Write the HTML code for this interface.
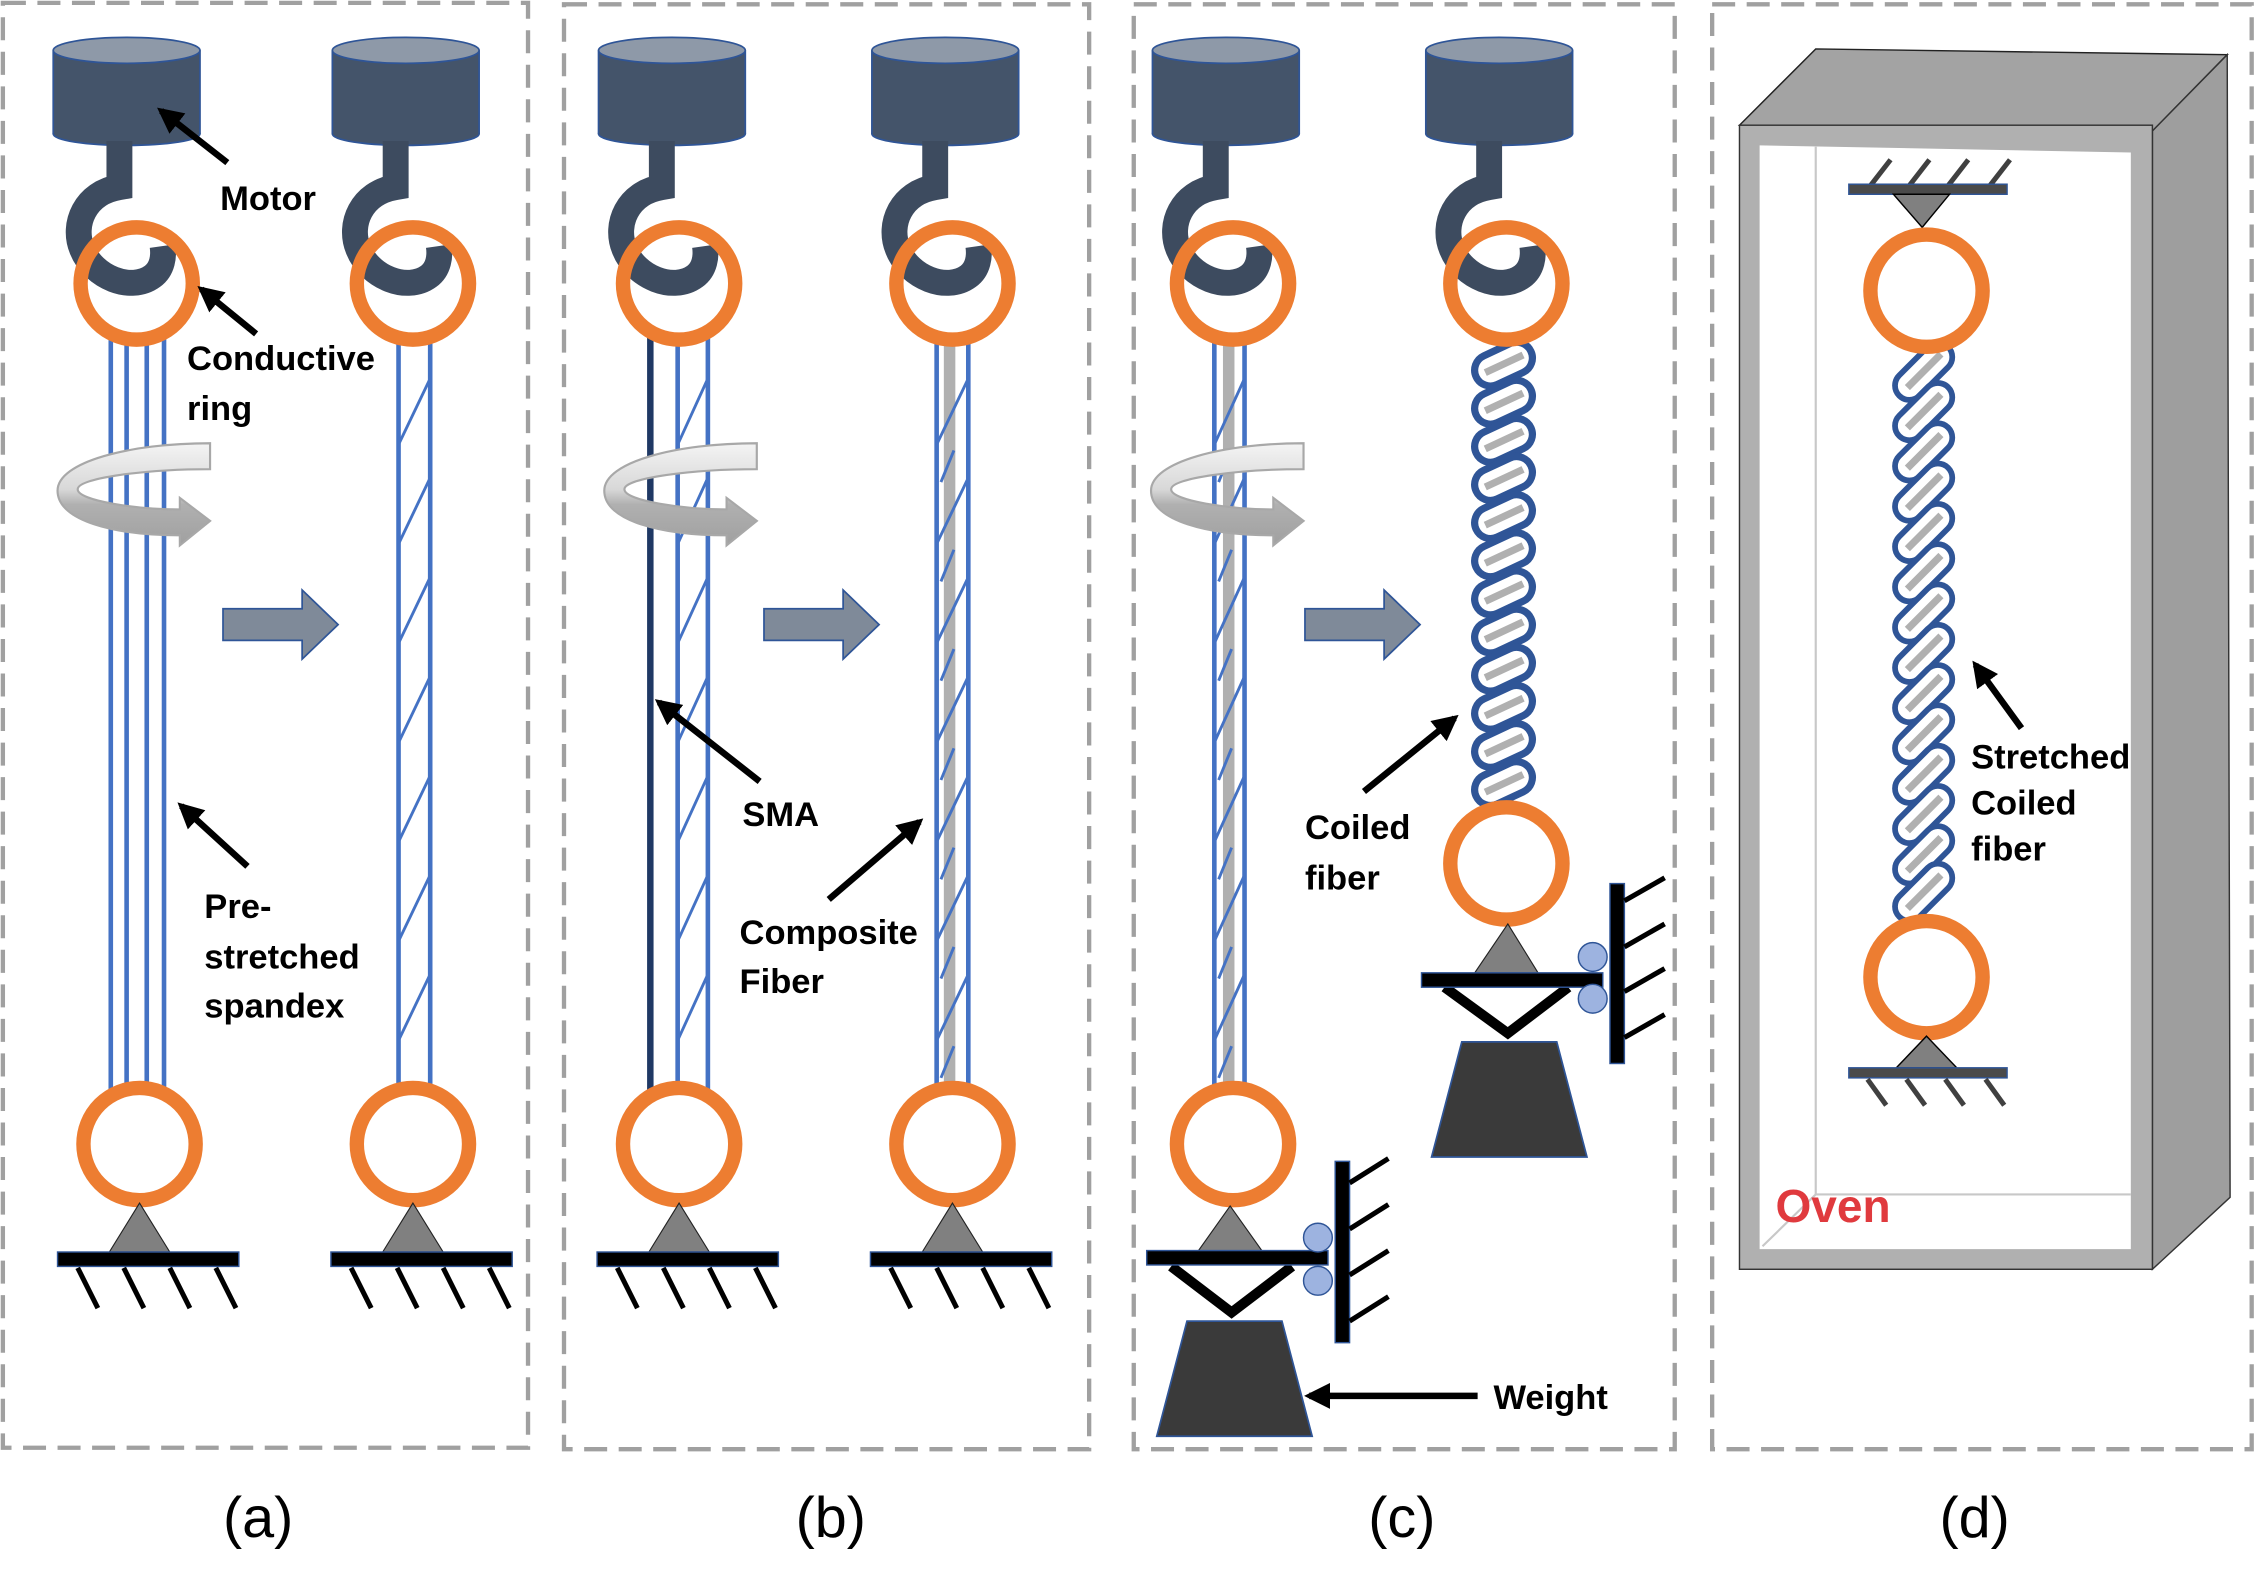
<!DOCTYPE html>
<html><head><meta charset="utf-8"><style>
html,body{margin:0;padding:0;background:#fff;}
svg{display:block;}
text{font-family:"Liberation Sans",sans-serif;}
.lb{font-weight:bold;font-size:24px;fill:#000;}
.cap{font-size:40px;fill:#000;}
</style></head><body>
<svg width="2256" height="1583" viewBox="0 0 1568 1100" preserveAspectRatio="none" xmlns="http://www.w3.org/2000/svg">
<defs>
<marker id="ah" markerWidth="4" markerHeight="4" refX="3.2" refY="2" orient="auto" markerUnits="strokeWidth"><path d="M0,0 L4,2 L0,4 Z" fill="#000"/></marker>
<linearGradient id="rg" x1="0" y1="0" x2="0" y2="1"><stop offset="0" stop-color="#f4f4f4"/><stop offset="0.45" stop-color="#d8d8d8"/><stop offset="0.6" stop-color="#b0b0b0"/><stop offset="1" stop-color="#a0a0a0"/></linearGradient>
<g id="motor">
 <ellipse cx="0" cy="93" rx="51" ry="8" fill="#44546a" stroke="#2f5597" stroke-width="1.2"/>
 <rect x="-51" y="35" width="102" height="58" fill="#44546a"/>
 <line x1="-51" y1="35" x2="-51" y2="93" stroke="#2f5597" stroke-width="1.2"/>
 <line x1="51" y1="35" x2="51" y2="93" stroke="#2f5597" stroke-width="1.2"/>
 <ellipse cx="0" cy="35" rx="51" ry="9" fill="#8e99a8" stroke="#2f5597" stroke-width="1.2"/>
</g>
<g id="hook">
 <path d="M-12,98 L-12,130 C-36,134 -45,156 -38,173 C-30,193 -4,203 11,192 C18,187 19,178 18,171" fill="none" stroke="#3d4b5f" stroke-width="18"/>
</g>
<g id="ground">
 <polygon points="0,-2 -21,32 21,32" fill="#808080" stroke="#222" stroke-width="0.8"/>
 <rect x="-57" y="32" width="126" height="10" fill="#000" stroke="#2f5597" stroke-width="1"/>
 <g stroke="#000" stroke-width="3.5">
  <line x1="-43" y1="43" x2="-29" y2="71"/><line x1="-11" y1="43" x2="3" y2="71"/><line x1="21" y1="43" x2="35" y2="71"/><line x1="53" y1="43" x2="67" y2="71"/>
 </g>
</g>
<g id="rot">
 <path d="M106,4 L106,22 C62,22 14,28 14,36 C14,44 55,50 85,50 L85,42 L106,58 L85,75 L85,68 C40,68 0,58 0,37 C0,17 50,4 106,4 Z" fill="url(#rg)" stroke="#a8a8a8" stroke-width="1.5"/>
</g>
<g id="bigarrow">
 <polygon points="0,-11 55,-11 55,-24 80,0 55,24 55,11 0,11" fill="#7f8a99" stroke="#2f5597" stroke-width="1.2"/>
</g>
<g id="capc">
 <rect x="-21" y="-11" width="42" height="22" rx="11" fill="#fff" stroke="#2f5597" stroke-width="5"/>
 <line x1="-14" y1="0" x2="15" y2="0" stroke="#b0b0b0" stroke-width="5"/>
</g>
<g id="capd">
 <rect x="-24" y="-10" width="48" height="20" rx="10" fill="#fff" stroke="#2f5597" stroke-width="4"/>
 <line x1="-16" y1="0" x2="17" y2="0" stroke="#b0b0b0" stroke-width="5"/>
</g>
<g id="ring"><circle r="39" fill="none" stroke="#ed7d31" stroke-width="10"/></g>
<g id="wt">
 <polygon points="-33,-30 33,-30 54,50 -54,50" fill="#3a3a3a" stroke="#2f5597" stroke-width="1.2"/>
</g>
</defs>

<g fill="none" stroke="#a0a0a0" stroke-width="3" stroke-dasharray="16,8">
 <rect x="2" y="2" width="365" height="1004"/>
 <rect x="392" y="3" width="365" height="1004"/>
 <rect x="788" y="3" width="376" height="1004"/>
 <rect x="1190" y="3" width="375" height="1004"/>
</g>

<use href="#motor" x="88" y="0"/><use href="#motor" x="282" y="0"/>
<use href="#motor" x="467" y="0"/><use href="#motor" x="657" y="0"/>
<use href="#motor" x="852" y="0"/><use href="#motor" x="1042" y="0"/>
<use href="#hook" x="95"/><use href="#hook" x="287"/><use href="#hook" x="472"/>
<use href="#hook" x="662"/><use href="#hook" x="857"/><use href="#hook" x="1047"/>

<g stroke="#4472c4" stroke-width="3.2">
 <line x1="77" y1="232" x2="77" y2="758"/><line x1="88" y1="232" x2="88" y2="758"/>
 <line x1="102" y1="232" x2="102" y2="758"/><line x1="114" y1="232" x2="114" y2="758"/>
</g>
<g stroke="#4472c4" stroke-width="3.2">
 <line x1="277" y1="232" x2="277" y2="758"/><line x1="299" y1="232" x2="299" y2="758"/>
</g>
<g stroke="#4472c4" stroke-width="2">
 <line x1="277" y1="309" x2="299" y2="263"/><line x1="277" y1="378" x2="299" y2="332"/>
 <line x1="277" y1="447" x2="299" y2="401"/><line x1="277" y1="516" x2="299" y2="470"/>
 <line x1="277" y1="585" x2="299" y2="539"/><line x1="277" y1="654" x2="299" y2="608"/>
 <line x1="277" y1="723" x2="299" y2="677"/>
</g>
<line x1="452" y1="232" x2="452" y2="758" stroke="#1f3864" stroke-width="4.5"/>
<g stroke="#4472c4" stroke-width="3.2">
 <line x1="471" y1="232" x2="471" y2="758"/><line x1="492" y1="232" x2="492" y2="758"/>
</g>
<g stroke="#4472c4" stroke-width="2">
 <line x1="471" y1="309" x2="492" y2="263"/><line x1="471" y1="378" x2="492" y2="332"/>
 <line x1="471" y1="447" x2="492" y2="401"/><line x1="471" y1="516" x2="492" y2="470"/>
 <line x1="471" y1="585" x2="492" y2="539"/><line x1="471" y1="654" x2="492" y2="608"/>
 <line x1="471" y1="723" x2="492" y2="677"/>
</g>
<rect x="656" y="232" width="8" height="526" fill="#b0b0b0"/>
<g stroke="#4472c4" stroke-width="3.2">
 <line x1="651" y1="232" x2="651" y2="758"/><line x1="673" y1="232" x2="673" y2="758"/>
</g>
<g stroke="#4472c4" stroke-width="2">
 <line x1="651" y1="309" x2="673" y2="263"/><line x1="651" y1="378" x2="673" y2="332"/>
 <line x1="651" y1="447" x2="673" y2="401"/><line x1="651" y1="516" x2="673" y2="470"/>
 <line x1="651" y1="585" x2="673" y2="539"/><line x1="651" y1="654" x2="673" y2="608"/>
 <line x1="651" y1="723" x2="673" y2="677"/>
 <line x1="654" y1="335" x2="663" y2="313"/><line x1="654" y1="404" x2="663" y2="382"/>
 <line x1="654" y1="473" x2="663" y2="451"/><line x1="654" y1="542" x2="663" y2="520"/>
 <line x1="654" y1="611" x2="663" y2="589"/><line x1="654" y1="680" x2="663" y2="658"/>
 <line x1="654" y1="749" x2="663" y2="727"/>
</g>
<rect x="850" y="232" width="8" height="526" fill="#b0b0b0"/>
<g stroke="#4472c4" stroke-width="3.2">
 <line x1="844" y1="232" x2="844" y2="758"/><line x1="865" y1="232" x2="865" y2="758"/>
</g>
<g stroke="#4472c4" stroke-width="2">
 <line x1="844" y1="309" x2="865" y2="263"/><line x1="844" y1="378" x2="865" y2="332"/>
 <line x1="844" y1="447" x2="865" y2="401"/><line x1="844" y1="516" x2="865" y2="470"/>
 <line x1="844" y1="585" x2="865" y2="539"/><line x1="844" y1="654" x2="865" y2="608"/>
 <line x1="844" y1="723" x2="865" y2="677"/>
 <line x1="847" y1="335" x2="856" y2="313"/><line x1="847" y1="404" x2="856" y2="382"/>
 <line x1="847" y1="473" x2="856" y2="451"/><line x1="847" y1="542" x2="856" y2="520"/>
 <line x1="847" y1="611" x2="856" y2="589"/><line x1="847" y1="680" x2="856" y2="658"/>
 <line x1="847" y1="749" x2="856" y2="727"/>
</g>

<g>
 <use href="#capc" transform="translate(1045,253) rotate(-25)"/>
 <use href="#capc" transform="translate(1045,279.5) rotate(-25)"/>
 <use href="#capc" transform="translate(1045,306) rotate(-25)"/>
 <use href="#capc" transform="translate(1045,332.5) rotate(-25)"/>
 <use href="#capc" transform="translate(1045,359) rotate(-25)"/>
 <use href="#capc" transform="translate(1045,385.5) rotate(-25)"/>
 <use href="#capc" transform="translate(1045,412) rotate(-25)"/>
 <use href="#capc" transform="translate(1045,438.5) rotate(-25)"/>
 <use href="#capc" transform="translate(1045,465) rotate(-25)"/>
 <use href="#capc" transform="translate(1045,491.5) rotate(-25)"/>
 <use href="#capc" transform="translate(1045,518) rotate(-25)"/>
 <use href="#capc" transform="translate(1045,544.5) rotate(-25)"/>
</g>

<use href="#ring" x="95" y="197"/><use href="#ring" x="287" y="197"/>
<use href="#ring" x="472" y="197"/><use href="#ring" x="662" y="197"/>
<use href="#ring" x="857" y="197"/><use href="#ring" x="1047" y="197"/>
<use href="#ring" x="97" y="795"/><use href="#ring" x="287" y="795"/>
<use href="#ring" x="472" y="795"/><use href="#ring" x="662" y="795"/>
<use href="#ring" x="857" y="795"/><use href="#ring" x="1047" y="600"/>

<use href="#ground" x="97" y="838"/><use href="#ground" x="287" y="838"/>
<use href="#ground" x="472" y="838"/><use href="#ground" x="662" y="838"/>

<use href="#rot" x="40" y="304"/><use href="#rot" x="420" y="304"/><use href="#rot" x="800" y="304"/>
<use href="#bigarrow" x="155" y="434"/><use href="#bigarrow" x="531" y="434"/><use href="#bigarrow" x="907" y="434"/>

<polygon points="855,838 833,869 877,869" fill="#808080" stroke="#222" stroke-width="0.8"/>
<polyline points="814,880 856,912 898,880" fill="none" stroke="#000" stroke-width="7"/>
<rect x="797" y="869" width="126" height="10" fill="#000" stroke="#2f5597" stroke-width="1"/>
<use href="#wt" x="858" y="948"/>
<rect x="928" y="807" width="10" height="126" fill="#000" stroke="#2f5597" stroke-width="1"/>
<g stroke="#000" stroke-width="3.5">
 <line x1="938" y1="822" x2="965" y2="805"/><line x1="938" y1="854" x2="965" y2="837"/>
 <line x1="938" y1="886" x2="965" y2="869"/><line x1="938" y1="918" x2="965" y2="901"/>
</g>
<circle cx="916" cy="860" r="10" fill="#9db3e0" stroke="#2f5597" stroke-width="1"/>
<circle cx="916" cy="890" r="10" fill="#9db3e0" stroke="#2f5597" stroke-width="1"/>

<polygon points="1048,642 1025,676 1069,676" fill="#808080" stroke="#222" stroke-width="0.8"/>
<polyline points="1004,686 1048,718 1090,686" fill="none" stroke="#000" stroke-width="7"/>
<rect x="988" y="676" width="126" height="10" fill="#000" stroke="#2f5597" stroke-width="1"/>
<use href="#wt" x="1049" y="754"/>
<rect x="1119" y="614" width="10" height="125" fill="#000" stroke="#2f5597" stroke-width="1"/>
<g stroke="#000" stroke-width="3.5">
 <line x1="1129" y1="626" x2="1157" y2="610"/><line x1="1129" y1="658" x2="1157" y2="642"/>
 <line x1="1129" y1="689" x2="1157" y2="673"/><line x1="1129" y1="721" x2="1157" y2="705"/>
</g>
<circle cx="1107" cy="665" r="10" fill="#9db3e0" stroke="#2f5597" stroke-width="1"/>
<circle cx="1107" cy="694" r="10" fill="#9db3e0" stroke="#2f5597" stroke-width="1"/>

<polygon points="1209,87 1262,34 1548,38 1496,91" fill="#a3a3a3" stroke="#222" stroke-width="1"/>
<polygon points="1496,91 1548,38 1550,832 1496,882" fill="#9e9e9e" stroke="#333" stroke-width="1"/>
<rect x="1209" y="87" width="287" height="795" fill="#b0b0b0" stroke="#333" stroke-width="1"/>
<polygon points="1223,101 1481,106 1481,868 1223,868" fill="#fff"/>
<g stroke="#c8c8c8" stroke-width="1.5" fill="none">
 <line x1="1262" y1="102" x2="1262" y2="830"/><line x1="1262" y1="830" x2="1481" y2="830"/>
 <line x1="1262" y1="830" x2="1225" y2="866"/>
</g>
<g stroke="#404040" stroke-width="3.5">
 <line x1="1300" y1="129" x2="1314" y2="111"/><line x1="1327" y1="129" x2="1341" y2="111"/>
 <line x1="1354" y1="129" x2="1368" y2="111"/><line x1="1383" y1="129" x2="1397" y2="111"/>
</g>
<rect x="1285" y="128" width="110" height="7" fill="#4a4a4a" stroke="#2f5597" stroke-width="1"/>
<polygon points="1316,135 1355,135 1336,158" fill="#808080" stroke="#000" stroke-width="1"/>
<g>
 <use href="#capd" transform="translate(1337,258) rotate(-45)"/>
 <use href="#capd" transform="translate(1337,286) rotate(-45)"/>
 <use href="#capd" transform="translate(1337,314) rotate(-45)"/>
 <use href="#capd" transform="translate(1337,342) rotate(-45)"/>
 <use href="#capd" transform="translate(1337,370) rotate(-45)"/>
 <use href="#capd" transform="translate(1337,398) rotate(-45)"/>
 <use href="#capd" transform="translate(1337,426) rotate(-45)"/>
 <use href="#capd" transform="translate(1337,454) rotate(-45)"/>
 <use href="#capd" transform="translate(1337,482) rotate(-45)"/>
 <use href="#capd" transform="translate(1337,510) rotate(-45)"/>
 <use href="#capd" transform="translate(1337,538) rotate(-45)"/>
 <use href="#capd" transform="translate(1337,566) rotate(-45)"/>
 <use href="#capd" transform="translate(1337,594) rotate(-45)"/>
 <use href="#capd" transform="translate(1337,620) rotate(-45)"/>
</g>
<use href="#ring" x="1339" y="202"/>
<use href="#ring" x="1339" y="679"/>
<polygon points="1339,720 1318,742 1360,742" fill="#808080" stroke="#000" stroke-width="1"/>
<rect x="1285" y="742" width="110" height="7" fill="#4a4a4a" stroke="#2f5597" stroke-width="1"/>
<g stroke="#404040" stroke-width="3.5">
 <line x1="1298" y1="750" x2="1311" y2="768"/><line x1="1325" y1="750" x2="1338" y2="768"/>
 <line x1="1352" y1="750" x2="1365" y2="768"/><line x1="1380" y1="750" x2="1393" y2="768"/>
</g>
<text x="1234" y="849" font-family="Liberation Sans, sans-serif" font-weight="bold" font-size="32" fill="#e03a3e">Oven</text>

<g stroke="#000" stroke-width="4.5" fill="none" marker-end="url(#ah)">
 <line x1="158" y1="113" x2="112" y2="77"/>
 <line x1="178" y1="232" x2="140" y2="201"/>
 <line x1="172" y1="602" x2="126" y2="560"/>
 <line x1="528" y1="543" x2="458" y2="488"/>
 <line x1="576" y1="625" x2="639" y2="571"/>
 <line x1="948" y1="550" x2="1011" y2="499"/>
 <line x1="1027" y1="970" x2="910" y2="970"/>
 <line x1="1405" y1="506" x2="1373" y2="462"/>
</g>

<text class="lb" x="153" y="146">Motor</text>
<text class="lb" x="130" y="257">Conductive</text>
<text class="lb" x="130" y="292">ring</text>
<text class="lb" x="142" y="638">Pre-</text>
<text class="lb" x="142" y="673">stretched</text>
<text class="lb" x="142" y="707">spandex</text>
<text class="lb" x="516" y="574">SMA</text>
<text class="lb" x="514" y="656">Composite</text>
<text class="lb" x="514" y="690">Fiber</text>
<text class="lb" x="907" y="583">Coiled</text>
<text class="lb" x="907" y="618">fiber</text>
<text class="lb" x="1038" y="979">Weight</text>
<text class="lb" x="1370" y="534">Stretched</text>
<text class="lb" x="1370" y="566">Coiled</text>
<text class="lb" x="1370" y="598">fiber</text>

<text class="cap" x="155" y="1068">(a)</text>
<text class="cap" x="553" y="1068">(b)</text>
<text class="cap" x="951" y="1068">(c)</text>
<text class="cap" x="1348" y="1068">(d)</text>
</svg>
</body></html>
